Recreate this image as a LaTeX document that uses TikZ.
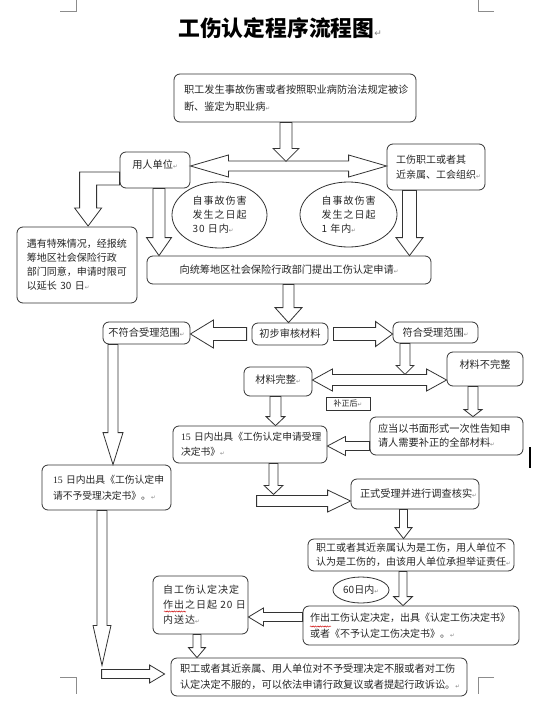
\documentclass[tikz,border=0pt]{standalone}
\usepackage{fontspec}
\setmainfont{Noto Sans CJK SC}
\newfontfamily\dejavu{DejaVu Sans}
\newfontfamily\spacedcjk[LetterSpace=10]{Noto Sans CJK SC}
\newfontfamily\tnr{Liberation Serif}
\usetikzlibrary{calc,shapes.geometric,decorations.pathmorphing}
\newcommand\prmk{{\fontsize{5.5}{5.5}\selectfont\dejavu\textcolor{black!50}{↵}}}
\newcommand\blkarrow[5]{%
  \coordinate (ba-h) at ($(#2)!#5!(#1)$);
  \draw[blk] ($(#1)!#3!90:(#2)$) -- ($(ba-h)!#3!90:(#2)$) -- ($(ba-h)!#4!90:(#2)$) -- (#2)
    -- ($(ba-h)!#4!-90:(#2)$) -- ($(ba-h)!#3!-90:(#2)$) -- ($(#1)!#3!-90:(#2)$) -- cycle;}
\newcommand\dblarrow[5]{%
  \coordinate (da-a) at ($(#1)!#5!(#2)$);
  \coordinate (da-b) at ($(#2)!#5!(#1)$);
  \draw[blk] (#1) -- ($(da-a)!#4!90:(#2)$) -- ($(da-a)!#3!90:(#2)$) -- ($(da-b)!#3!-90:(#1)$)
    -- ($(da-b)!#4!-90:(#1)$) -- (#2) -- ($(da-b)!#4!90:(#1)$) -- ($(da-b)!#3!90:(#1)$)
    -- ($(da-a)!#3!-90:(#2)$) -- ($(da-a)!#4!-90:(#2)$) -- cycle;}
\tikzset{
  box/.style={draw=black!80, line width=0.8pt, rounded corners=6pt, fill=white, align=left,
    inner ysep=0pt, font=\fontsize{10.2}{15}\selectfont, text=black!85},
  ell/.style={draw=black!80, line width=0.8pt, ellipse, inner sep=0pt, align=left,
    font=\spacedcjk\fontsize{10}{14}\selectfont, text=black!85},
  blk/.style={draw=black!80, line width=0.8pt, fill=white, line join=miter},
  cmark/.style={draw=black!45, line width=0.7pt},
  wavy/.style={draw=red!80!black, line width=0.45pt, decorate,
    decoration={snake, amplitude=0.6pt, segment length=2.4pt}}
}
\begin{document}
\begin{tikzpicture}[x=1pt,y=-1pt]
\useasboundingbox (0,0) rectangle (554,709);
\fill[white] (0,0) rectangle (554,709);
% corner marks
\draw[cmark] (60,11.4) -- (76,11.4) -- (76,0);
\draw[cmark] (494,11.4) -- (478,11.4) -- (478,0);
\draw[cmark] (60,677) -- (76,677) -- (76,694);
\draw[cmark] (494,677) -- (478,677) -- (478,694);
% title
\node[anchor=west, inner sep=0pt, font=\fontsize{21.8}{24}\selectfont\bfseries] (title) at (178,28.5)
  {工伤认定程序流程图{\fontsize{9}{9}\selectfont\dejavu\mdseries\textcolor{black!50}{↵}}};
% boxes
\node[box, minimum width=242pt, minimum height=48pt, inner xsep=10pt, text width=222pt,
  font=\fontsize{10.2}{17}\selectfont] (b1) at (295,98)
  {职工发生事故伤害或者按照职业病防治法规定被诊\\断、鉴定为职业病\prmk};
\node[box, minimum width=70pt, minimum height=36pt, inner xsep=5pt, text width=60pt, align=center] (bY) at (155,170)
  {\raisebox{5pt}[\height][\depth]{用人单位\prmk}};
\node[box, minimum width=98pt, minimum height=46pt, inner xsep=9pt, text width=80pt,
  font=\fontsize{10}{15}\selectfont] (bW) at (436,167)
  {工伤职工或者其\\近亲属、工会组织\prmk};
\node[box, minimum width=120pt, minimum height=76pt, inner xsep=10pt, text width=100pt,
  font=\fontsize{10}{14}\selectfont] (bS) at (77,265)
  {遇有特殊情况，经报统\\筹地区社会保险行政\\部门同意，申请时限可\\以延长~30~日\prmk};
\node[ell, minimum width=95pt, minimum height=66pt] (eA) at (219.5,215)
  {自事故伤害\\发生之日起\\30~日内\prmk};
\node[ell, minimum width=97pt, minimum height=65pt] (eB) at (348.5,214.5)
  {自事故伤害\\发生之日起\\1~年内\prmk};
\node[box, minimum width=284pt, minimum height=28pt, inner xsep=10pt, text width=264pt, align=center] (bR) at (289,270)
  {向统筹地区社会保险行政部门提出工伤认定申请\prmk};
\node[box, minimum width=76pt, minimum height=22pt, inner xsep=4pt, text width=68pt, align=center] (bP) at (290,334)
  {初步审核材料};
\node[box, minimum width=87pt, minimum height=22pt, inner xsep=4pt, text width=79pt, align=center] (bN) at (146.5,333)
  {不符合受理范围\prmk};
\node[box, minimum width=85pt, minimum height=21pt, inner xsep=4pt, text width=77pt, align=center] (bA) at (435.5,332.5)
  {符合受理范围\prmk};
\node[box, minimum width=68pt, minimum height=29pt, inner xsep=4pt, text width=60pt, align=center] (bC) at (278,381.5)
  {\raisebox{2pt}[\height][\depth]{材料完整\prmk}};
\node[box, minimum width=76pt, minimum height=34pt, inner xsep=4pt, text width=68pt, align=center] (bI) at (485,369)
  {\raisebox{4pt}[\height][\depth]{材料不完整}};
\node[box, rounded corners=0pt, minimum width=44pt, minimum height=13pt, inner xsep=2pt, text width=40pt, align=center,
  font=\fontsize{8}{9}\selectfont] (bZ) at (348,403.5)
  {补正后\prmk};
\node[box, minimum width=153pt, minimum height=38pt, inner xsep=8pt, text width=137pt,
  font=\fontsize{10.2}{14}\selectfont] (bT) at (446.5,436)
  {应当以书面形式一次性告知申\\请人需要补正的全部材料\prmk};
\node[box, minimum width=154pt, minimum height=37pt, inner xsep=8pt, text width=138pt,
  font=\fontsize{9.8}{15}\selectfont] (bG) at (250,444.5)
  {{\tnr 15}~日内出具《工伤认定申请受理\\决定书》\prmk};
\node[box, minimum width=129pt, minimum height=45pt, inner xsep=11pt, text width=107pt,
  font=\fontsize{9.8}{16}\selectfont] (bX) at (106.5,487.5)
  {{\tnr 15}~日内出具《工伤认定申\\请不予受理决定书》。\prmk};
\node[box, minimum width=128pt, minimum height=30pt, inner xsep=9pt, text width=110pt] (bF1) at (415,494)
  {正式受理并进行调查核实\prmk};
\node[box, minimum width=206pt, minimum height=32pt, inner xsep=8pt, text width=190pt,
  font=\fontsize{10}{14}\selectfont] (bJ) at (411,555)
  {职工或者其近亲属认为是工伤，用人单位不\\认为是工伤的，由该用人单位承担举证责任\prmk};
\node[ell, align=center, minimum width=56pt, minimum height=26pt, font=\fontsize{10}{12}\selectfont] (eC) at (361,590)
  {60日内\prmk};
\node[box, minimum width=216pt, minimum height=39pt, inner xsep=7pt, text width=202pt,
  font=\fontsize{10}{16}\selectfont] (bD) at (411,625.5)
  {作出工伤认定决定，出具《认定工伤决定书》\\或者《不予认定工伤决定书》。\prmk};
\node[box, minimum width=95pt, minimum height=58pt, inner xsep=10pt, text width=75pt,
  font=\spacedcjk\fontsize{10}{15}\selectfont] (bQ) at (200.5,605)
  {自工伤认定决定\\作出之日起~20~日\\内送达\prmk};
\node[box, minimum width=296pt, minimum height=38pt, inner xsep=9pt, text width=278pt,
  font=\fontsize{10.2}{16}\selectfont] (bF) at (319,677)
  {职工或者其近亲属、用人单位对不予受理决定不服或者对工伤\\认定决定不服的，可以依法申请行政复议或者提起行政诉讼。\prmk};
% spell-check underlines
\draw[wavy] (310,626.5) -- (331,626.5);
\draw[wavy] (164,611.5) -- (186,611.5);
% text cursor
\draw[line width=1.6pt, black] (530,447) -- (530,468);
% block arrows
\coordinate (a1s) at ($(b1.south)+(-9,0)$);
\coordinate (a1e) at ($(a1s)+(0,39)$);
\dblarrow{$(bY.east)+(0,-4)$}{$(bW.west)+(0,-1)$}{5pt}{11pt}{38pt}
\blkarrow{a1s}{a1e}{6pt}{13pt}{13pt}
\coordinate (a2s) at ($(bY.south)+(4,0)$);
\coordinate (a2e) at (a2s |- bR.north);
\blkarrow{a2s}{a2e}{6pt}{12.5pt}{18pt}
\coordinate (a3s) at ($(bW.south)+(-26.5,0)$);
\coordinate (a3e) at (a3s |- bR.north);
\blkarrow{a3s}{a3e}{7pt}{13.5pt}{18pt}
\draw[blk] ($(bY.west)+(0,2)$) -- ++(-40,0) -- ++(0,36) -- ++(-5,0) -- ++(13.5,18)
  -- ++(13.5,-18) -- ++(-5,0) -- ++(0,-23) -- ++(23,0) -- cycle;
\coordinate (a4s) at ($(bR.south)+(-0.5,0)$);
\coordinate (a4e) at (a4s |- bP.north);
\blkarrow{a4s}{a4e}{5.5pt}{13.5pt}{15pt}
\coordinate (a5s) at ($(bP.west)+(-5,0)$);
\coordinate (a5e) at (a5s -| bN.east);
\blkarrow{a5s}{a5e}{6.5pt}{14pt}{23pt}
\coordinate (a6s) at ($(bP.east)+(5,0)$);
\coordinate (a6e) at (a6s -| bA.west);
\blkarrow{a6s}{a6e}{6.5pt}{12.5pt}{17pt}
\coordinate (a7s) at ($(bA.south)+(-30.5,0)$);
\coordinate (a7e) at ($(a7s)+(0,31)$);
\coordinate (d2a) at ($(bC.east)+(0,-1.5)$);
\coordinate (d2b) at (d2a -| bI.west);
\dblarrow{d2a}{d2b}{5.5pt}{11pt}{20pt}
\blkarrow{a7s}{a7e}{5pt}{9pt}{9pt}
\coordinate (a8s) at ($(bC.south)+(-2.5,0)$);
\coordinate (a8e) at (a8s |- bG.north);
\blkarrow{a8s}{a8e}{5.5pt}{9.5pt}{9pt}
\coordinate (a9s) at ($(bI.south)+(-12,0)$);
\coordinate (a9e) at (a9s |- bT.north);
\blkarrow{a9s}{a9e}{5pt}{9pt}{7pt}
\coordinate (a10s) at ($(bT.west)+(0,10)$);
\coordinate (a10e) at (a10s -| bG.east);
\blkarrow{a10s}{a10e}{4.5pt}{9.5pt}{18pt}
\coordinate (a11s) at ($(bN.south)+(-33.5,0)$);
\coordinate (a11e) at (a11s |- bX.north);
\blkarrow{a11s}{a11e}{5pt}{10pt}{32pt}
\coordinate (a13s) at ($(bF1.west)+(-94,7)$);
\coordinate (a13e) at (a13s -| bF1.west);
\blkarrow{a13s}{a13e}{5.5pt}{11pt}{23pt}
\coordinate (a12s) at ($(bG.south)+(23.5,0)$);
\coordinate (a12e) at ($(a12s)+(0,31)$);
\blkarrow{a12s}{a12e}{4.5pt}{9.5pt}{9pt}
\coordinate (a14s) at ($(bF1.south)+(-11.5,0)$);
\coordinate (a14e) at (a14s |- bJ.north);
\blkarrow{a14s}{a14e}{4pt}{8.5pt}{11pt}
\coordinate (a15s) at ($(bJ.south)+(-8,0)$);
\coordinate (a15e) at (a15s |- bD.north);
\blkarrow{a15s}{a15e}{4pt}{9.5pt}{9pt}
\coordinate (a16s) at ($(bD.west)+(0,-8.5)$);
\coordinate (a16e) at (a16s -| bQ.east);
\blkarrow{a16s}{a16e}{4.5pt}{9pt}{15pt}
\coordinate (a17s) at ($(bQ.south)+(-3.5,0)$);
\coordinate (a17e) at (a17s |- bF.north);
\blkarrow{a17s}{a17e}{4pt}{8.5pt}{10pt}
\coordinate (a18s) at ($(bX.south)+(-4.5,0)$);
\coordinate (a18e) at ($(a18s)+(0,155)$);
\blkarrow{a18s}{a18e}{5pt}{9pt}{40pt}
\coordinate (a19s) at ($(bF.west)+(-69,-3)$);
\coordinate (a19e) at ($(bF.west)+(-6,-3)$);
\blkarrow{a19s}{a19e}{4.5pt}{9pt}{15pt}
\end{tikzpicture}
\end{document}
